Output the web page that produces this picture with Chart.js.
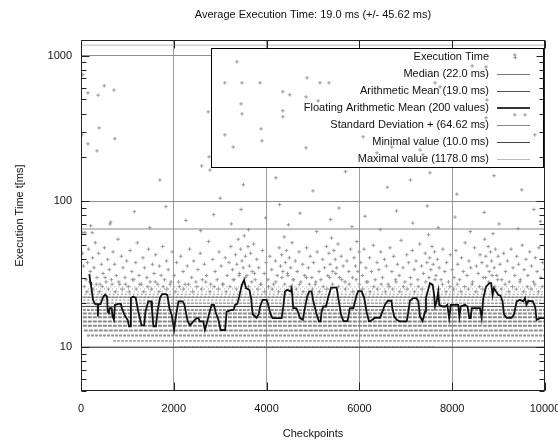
<!DOCTYPE html>
<html><head><meta charset="utf-8">
<script src="https://cdn.jsdelivr.net/npm/chart.js@4.4.1/dist/chart.umd.min.js"></script>
<style>html,body{margin:0;padding:0;background:#fff;overflow:hidden;}#wrap{position:relative;width:565px;height:441px;}</style>
</head><body><div id="wrap"><canvas id="c" width="565" height="441"></canvas></div>
<script>
// ---- summary statistics ----
const median = 22.0, mean = 19.0, stdDev = 45.62, stdPlus = 64.62, minVal = 10.0, maxVal = 1178.0, floatWindow = 200;

// ---- x axis ticks ----
const xTicks = [0, 2000, 4000, 6000, 8000, 10000];
// ---- y axis ticks (log) ----
const yTickValues = [5,6,7,8,9,10,20,30,40,50,60,70,80,90,100,200,300,400,500,600,700,800,900,1000];
const yLabelValues = [10, 100, 1000];

// ---- dense quantised measurements: level (ms), first/last checkpoint, relative density ----
const bandLevels  = [10,   11,   12,   13,  14,  15,  16,  17,  18,  19,  20,  21,  22,  23,  24,  25,  26];
const bandFrom    = [2130, 690,  130,  60,  40,  40,  40,  40,  40,  40,  40,  50,  60,  80,  100, 150, 200];
const bandTo      = [7600, 10000,10000,10000,10000,10000,10000,10000,10000,10000,10000,10000,10000,10000,10000,9950,9900];
const bandDensity = [0.5,  0.7,  0.85, 0.9, 1.0, 1.0, 1.0, 0.9, 0.8, 0.7, 0.65,0.55,0.55,0.45,0.4, 0.3, 0.25];

// ---- scattered measurements (checkpoint, ms) ----
const outCheckpoints = [
30,55,85,110,140,165,200,225,250,280,310,345,380,410,440,475,505,540,575,610,655,690,725,760,800,835,870,905,950,985,1020,1060,1095,1140,1180,1215,1250,1300,1335,1370,1420,1455,1490,1540,1575,1610,1655,1690,1725,1760,1800,1845,1880,1920,1965,
2010,2060,2105,2150,2200,2245,2290,2340,2385,2430,2475,2520,2570,2615,2660,2705,2750,2795,2840,2890,2935,2975,3020,3065,3110,3150,3190,3230,3265,3300,3330,3360,3390,3415,3440,3470,3495,3520,3545,3575,3600,3630,3655,3690,3720,3755,3790,3830,3870,3910,3950,3990,
4030,4070,4110,4150,4190,4230,4270,4300,4325,4350,4380,4405,4430,4460,4490,4520,4550,4580,4620,4660,4700,4740,4780,4820,4860,4900,4940,4975,5010,5050,5090,5130,5170,5210,5250,5290,5320,5345,5370,5400,5425,5450,5480,5510,5540,5570,5610,5650,5690,5730,5770,5810,5850,5885,5915,5945,5970,5995,
6030,6065,6100,6140,6180,6220,6260,6300,6340,6380,6420,6460,6500,6540,6580,6620,6660,6700,6740,6780,6820,6860,6900,6940,6980,7020,7060,7100,7140,7180,7220,7260,7300,7340,7380,7420,7455,7490,7515,7540,7565,7590,7620,7650,7680,7720,7760,7800,7840,7880,7920,7960,
8000,8040,8080,8120,8160,8200,8240,8280,8320,8360,8400,8440,8480,8520,8560,8600,8640,8670,8700,8725,8750,8775,8800,8825,8850,8880,8905,8930,8960,8990,9030,9070,9110,9150,9190,9230,9270,9310,9350,9390,9430,9470,9510,9550,9590,9630,9670,9710,9750,9790,9830,9870,9910,9950,9985,
210,640,1150,1480,1830,2260,2580,2860,3240,3450,3610,3980,4280,4470,4720,5080,5380,5560,5840,6120,6450,6800,7150,7460,7700,8060,8390,8690,9010,9420,9760,9900,
40,150,370,500,710,390,20,150,345,730,625,240,40,
3360,3100,3470,3860,4870,5150,5345,4350,4500,4850,5110,3450,3470,4350,4350,2740,3100,3900,3280,4850,2760,2780,7520,6380,6700,7370,7630,8430,8730,9350,8730,9350,9570,9780,8750,3880,6080,6940,7310,7740,
3500,4200,5000,5700,6600,7100,8100,8900,9500,2600,3000,1700,
70,130,190,260,330,395,460,520,590,670,740,815,890,960,1040,1110,1190,1270,1350,1440,1520,1600,1680,1770,1850,1940,2030,2120,2210,2320,2410,2500,2600,2690,2780,2870,2960,3050,3130,3210,3280,3350,3410,3480,3540,3610,3680,3740,3810,3880,3960,4040,4120,4200,4260,4330,4390,4450,4510,4570,4640,4710,4790,4860,4920,4990,5060,5140,5220,5300,5360,5420,5490,5550,5620,5700,5780,5860,5930,6000,6070,6150,6230,6310,6390,6470,6560,6640,6720,6790,6870,6950,7030,7110,7190,7270,7350,7430,7500,7560,7630,7710,7790,7870,7950,8030,8110,8190,8270,8350,8430,8510,8590,8660,8720,8790,8860,8920,8980,9060,9140,9220,9300,9380,9460,9540,9620,9700,9780,9860,9940
];
const outTimes = [
44,36,61,29,38,47,33,27,41,35,52,30,44,27,37,32,48,28,40,34,29,45,37,31,55,27,42,35,30,39,26,46,33,29,38,52,31,27,41,35,30,47,28,37,32,43,27,36,31,49,29,39,34,27,45,
31,38,28,42,33,27,36,47,30,39,28,34,44,29,37,31,53,27,40,33,29,45,36,27,41,31,38,49,34,29,43,37,55,32,47,39,35,58,42,31,49,36,44,33,51,29,40,35,27,46,32,38,
29,42,34,27,39,31,48,36,43,33,57,38,46,31,41,35,52,29,39,33,45,28,37,31,48,35,42,30,38,27,45,33,29,40,35,49,31,44,37,56,33,46,40,35,51,30,42,36,28,39,33,47,30,41,36,53,33,45,
38,31,47,35,28,41,33,50,29,38,34,45,30,40,36,27,48,33,42,29,37,31,54,35,28,43,38,30,46,34,39,29,51,36,32,44,38,59,41,34,49,37,45,31,40,35,29,47,33,38,28,43,
34,30,46,37,29,41,33,52,31,39,35,28,48,36,32,43,38,30,55,42,36,49,33,45,39,60,35,47,31,42,37,29,44,33,39,28,47,35,31,42,37,29,50,34,40,31,45,36,28,41,33,48,30,38,34,
68,72,85,66,92,74,63,81,70,88,64,77,95,69,83,62,75,90,67,79,64,86,71,93,66,78,62,84,70,65,88,73,
740,555,535,620,580,319,286,248,222,269,70,61,61,
906,650,650,650,703,650,650,564,538,521,489,466,398,418,380,411,286,260,236,233,202,164,157,215,236,209,650,849,836,1011,374,392,392,286,496,314,277,252,225,610,
130,145,118,160,125,140,112,150,120,175,105,140,
26,24,28,25,27,24,26,30,25,27,24,28,25,27,24,29,25,27,24,26,25,28,24,26,25,28,24,26,25,27,24,26,25,28,24,26,25,27,24,26,29,25,31,27,30,26,28,32,25,27,24,26,25,28,24,30,27,32,26,29,25,27,24,30,27,25,28,24,26,25,30,27,32,26,29,25,27,24,29,27,25,28,24,26,25,27,24,26,25,28,24,26,25,27,24,26,25,28,30,27,29,25,27,24,26,25,27,24,26,25,27,24,26,25,30,28,31,26,29,25,27,24,26,25,28,24,26,25,27,24,26
];

// ---- floating arithmetic mean (200 values) ----
const floatCheckpoints = [180,200,215,240,260,300,360,365,372,420,480,520,560,575,600,620,660,680,710,730,805,860,880,935,1005,1035,1065,1075,1130,1180,1235,1305,1360,1390,1450,1510,1530,1560,1615,1650,1700,1750,1825,1860,1905,1955,2005,2040,2100,2190,2230,2300,2350,2420,2495,2530,2560,2635,2670,2700,2765,2815,2865,2900,2960,3010,3105,3140,3245,3290,3320,3370,3410,3465,3515,3555,3630,3665,3700,3785,3830,3860,3915,4000,4035,4090,4130,4325,4360,4395,4445,4520,4540,4575,4635,4660,4720,4780,4825,4875,4920,4970,5000,5080,5130,5165,5185,5220,5280,5330,5390,5510,5545,5605,5655,5745,5795,5870,5905,5940,5975,6050,6105,6155,6205,6240,6335,6445,6495,6550,6610,6690,6710,6750,6805,6875,7020,7055,7090,7160,7230,7270,7305,7360,7415,7435,7520,7580,7610,7630,7665,7700,7720,7795,7850,7895,7935,7970,8130,8155,8185,8275,8330,8370,8400,8420,8600,8635,8670,8730,8800,8840,8870,8900,8945,8995,9040,9085,9115,9175,9280,9330,9390,9460,9530,9570,9600,9640,9740,9785,9820,9890,10000];
const floatMeans = [31.7,28,26.7,23.4,21.1,19.8,19.7,16.2,19.7,19.7,22.2,22.9,22.2,17.5,17.1,18.5,18.5,16.2,15.4,19.5,19.8,19.8,18.5,16.7,15.4,13.9,13.9,21.7,22.2,21.7,17.5,14.1,14.1,17.5,20.6,20.6,18,13.9,13.9,17.5,21.7,23.1,23.1,22.8,18.5,16.7,13.1,15.8,20.6,20.6,19.5,15.0,14.1,15.0,15.8,15.8,15.0,15.0,13.1,14.1,17.1,19.5,19.5,17.5,15.4,13.1,13.1,17.5,18,18,19.5,19.8,22.2,26.7,28.9,25.4,24.7,21.7,16.8,15.9,16.8,19.0,21.1,21.1,19.5,16.7,15.8,15.8,19,24.1,24.7,24.1,25.4,18.5,18.5,18,15.8,15.4,18.5,22.2,24.1,24.1,21.1,16.7,15.0,15.0,17.5,19,19,22.2,25.6,25.6,21.7,16.7,15.1,15.1,18.5,18.5,20.6,22.8,24.3,24.1,21.7,17.5,15.1,15.1,15.9,15.9,17.5,19.5,20.8,20.8,18.5,16.2,15.4,15.0,15.0,17.5,20.8,21.7,21.7,20.6,16.2,15.1,17.5,21.7,27.5,26.7,22.8,19.0,20.6,24.1,19.5,19.0,19.0,19.5,15.8,19.5,19.5,16.2,19.0,19.5,19.0,15.8,15.8,18.5,18.5,15.8,21.7,26,27.5,27.5,22.8,25.4,24.1,22.8,22.5,20.6,16.8,15.9,15.9,16.7,20.6,21.1,20.6,21.7,19.5,20.8,20.6,19.0,15.4,15.8,15.8];

// ---------------------------------------------------------------
const FONT = "'Liberation Sans', Arial, sans-serif";
const xMin = 0, xMax = 10000, yMin = 5, yMax = 1275;

const datasets = [];
bandLevels.forEach((lv, i) => {
  const d = bandDensity[i];
  datasets.push({
    type: 'line', label: '_band' + lv,
    data: [{x: bandFrom[i], y: lv}, {x: bandTo[i], y: lv}],
    borderColor: `rgba(125,125,125,${0.4 + 0.5 * d})`,
    borderWidth: d > 0.75 ? 2 : 1.5,
    borderDash: d > 0.85 ? [4, 1] : (d > 0.6 ? [3, 1] : (d > 0.4 ? [2, 2] : [1, 3])),
    pointRadius: 0, order: 20, tension: 0
  });
});
datasets.push({
  type: 'scatter', label: 'Execution Time',
  data: outCheckpoints.map((c, i) => ({x: c, y: outTimes[i]})),
  pointStyle: 'cross', pointRadius: 1.8, borderColor: '#999', backgroundColor: '#999', borderWidth: 1, order: 15
});
const statLines = [
  {label: `Median (${median.toFixed(1)} ms)`, v: median, color: '#777', w: 1},
  {label: `Arithmetic Mean (${mean.toFixed(1)} ms)`, v: mean, color: '#555', w: 1},
  {label: `Floating Arithmetic Mean (${floatWindow} values)`, v: null, color: '#333', w: 2},
  {label: `Standard Deviation + (${stdPlus.toFixed(2)} ms)`, v: stdPlus, color: '#888', w: 1},
  {label: `Minimal value (${minVal.toFixed(1)} ms)`, v: minVal, color: '#444', w: 1},
  {label: `Maximal value (${maxVal.toFixed(1)} ms)`, v: maxVal, color: '#bbb', w: 1}
];
statLines.forEach(s => {
  if (s.v === null) return;
  datasets.push({type: 'line', label: s.label, data: [{x: xMin, y: s.v}, {x: xMax, y: s.v}],
    borderColor: s.color, borderWidth: s.w, pointRadius: 0, order: 5});
});
datasets.push({type: 'line', label: statLines[2].label,
  data: floatCheckpoints.map((c, i) => ({x: c, y: floatMeans[i]})),
  borderColor: '#111', borderWidth: 1.8, pointRadius: 0, order: 1, tension: 0});

const legendPlugin = {
  id: 'boxLegend',
  beforeDatasetsDraw(chart) {
    const {ctx, chartArea: a} = chart;
    const L = a.left + 130, R = a.right - 2, T = a.top + 8, B = a.top + 127;
    ctx.save();
    ctx.fillStyle = '#fff'; ctx.fillRect(L, T, R - L, B - T);
    ctx.strokeStyle = '#000'; ctx.lineWidth = 1;
    ctx.strokeRect(Math.round(L) + 0.5, Math.round(T) + 0.5, Math.round(R - L), Math.round(B - T));
    ctx.font = '11px ' + FONT; ctx.fillStyle = '#111'; ctx.textAlign = 'right'; ctx.textBaseline = 'middle';
    const items = [{label: 'Execution Time', sym: true}].concat(statLines);
    items.forEach((it, i) => {
      const y = T + 9 + i * 16.9;
      ctx.fillText(it.label, R - 54, y);
      if (it.sym) {
        ctx.strokeStyle = '#999'; ctx.lineWidth = 1;
        ctx.beginPath(); ctx.moveTo(R - 30, y + 0.5); ctx.lineTo(R - 26, y + 0.5);
        ctx.moveTo(R - 27.5, y - 2); ctx.lineTo(R - 27.5, y + 2); ctx.stroke();
      } else {
        ctx.strokeStyle = it.color; ctx.lineWidth = it.w;
        const yy = it.w === 1 ? Math.round(y) + 0.5 : Math.round(y);
        ctx.beginPath(); ctx.moveTo(R - 46, yy); ctx.lineTo(R - 13, yy); ctx.stroke();
      }
    });
    ctx.restore();
  }
};

const framePlugin = {
  id: 'frameTicks',
  afterDraw(chart) {
    const {ctx, chartArea: a, scales} = chart;
    const l = Math.round(a.left) + 0.5, r = Math.round(a.right) - 0.5, t = Math.round(a.top) + 0.5, b = Math.round(a.bottom) - 0.5;
    ctx.save();
    ctx.strokeStyle = '#222'; ctx.lineWidth = 1;
    ctx.beginPath();
    yTickValues.forEach(v => {
      const y = Math.round(scales.y.getPixelForValue(v)) + 0.5;
      const len = yLabelValues.includes(v) ? 8 : 5;
      ctx.moveTo(l, y); ctx.lineTo(l + len, y);
      ctx.moveTo(r, y); ctx.lineTo(r - len, y);
    });
    xTicks.forEach(v => {
      const x = Math.round(scales.x.getPixelForValue(v)) + 0.5;
      ctx.moveTo(x, b); ctx.lineTo(x, b - 8);
      ctx.moveTo(x, t); ctx.lineTo(x, t + 8);
    });
    ctx.stroke();
    ctx.strokeRect(l, t, r - l, b - t);
    ctx.restore();
  }
};

new Chart(document.getElementById('c'), {
  data: {datasets},
  options: {
    responsive: false, animation: false, devicePixelRatio: 1,
    layout: {padding: {left: 0, right: 20, top: 0, bottom: 0}},
    plugins: {
      legend: {display: false}, tooltip: {enabled: false},
      title: {display: true, fullSize: false, text: `Average Execution Time: ${mean.toFixed(1)} ms (+/- ${stdDev.toFixed(2)} ms)`,
        color: '#111', font: {family: FONT, size: 11, weight: 'normal'}, padding: {top: 8, bottom: 19}}
    },
    scales: {
      x: {type: 'linear', min: xMin, max: xMax,
        afterBuildTicks: s => { s.ticks = xTicks.map(v => ({value: v})); },
        afterFit: s => { s.height = 50; s.paddingLeft = 0; s.paddingRight = 0; },
        ticks: {color: '#111', font: {family: FONT, size: 11}, padding: 11, maxRotation: 0, autoSkip: false,
          callback: v => String(v)},
        grid: {drawTicks: false, color: c => (c.tick && (c.tick.value === xMin || c.tick.value === xMax)) ? 'rgba(0,0,0,0)' : '#9d9d9d', lineWidth: 1},
        border: {display: false},
        title: {display: true, text: 'Checkpoints', color: '#111', font: {family: FONT, size: 11}, padding: {top: 0, bottom: 0}}
      },
      y: {type: 'logarithmic', min: yMin, max: yMax,
        afterBuildTicks: s => { s.ticks = yTickValues.map(v => ({value: v})); },
        afterFit: s => { s.width = 81; s.paddingTop = 0; s.paddingBottom = 0; },
        ticks: {color: '#111', font: {family: FONT, size: 11}, padding: 9, autoSkip: false,
          callback: v => yLabelValues.includes(v) ? String(v) : ''},
        grid: {drawTicks: false, color: c => (c.tick && yLabelValues.includes(c.tick.value)) ? '#8d8d8d' : 'rgba(0,0,0,0)', lineWidth: 1},
        border: {display: false},
        title: {display: true, text: 'Execution Time t[ms]', color: '#111', font: {family: FONT, size: 11}, padding: {top: 13, bottom: 0}}
      }
    }
  },
  plugins: [legendPlugin, framePlugin]
});
</script></body></html>
